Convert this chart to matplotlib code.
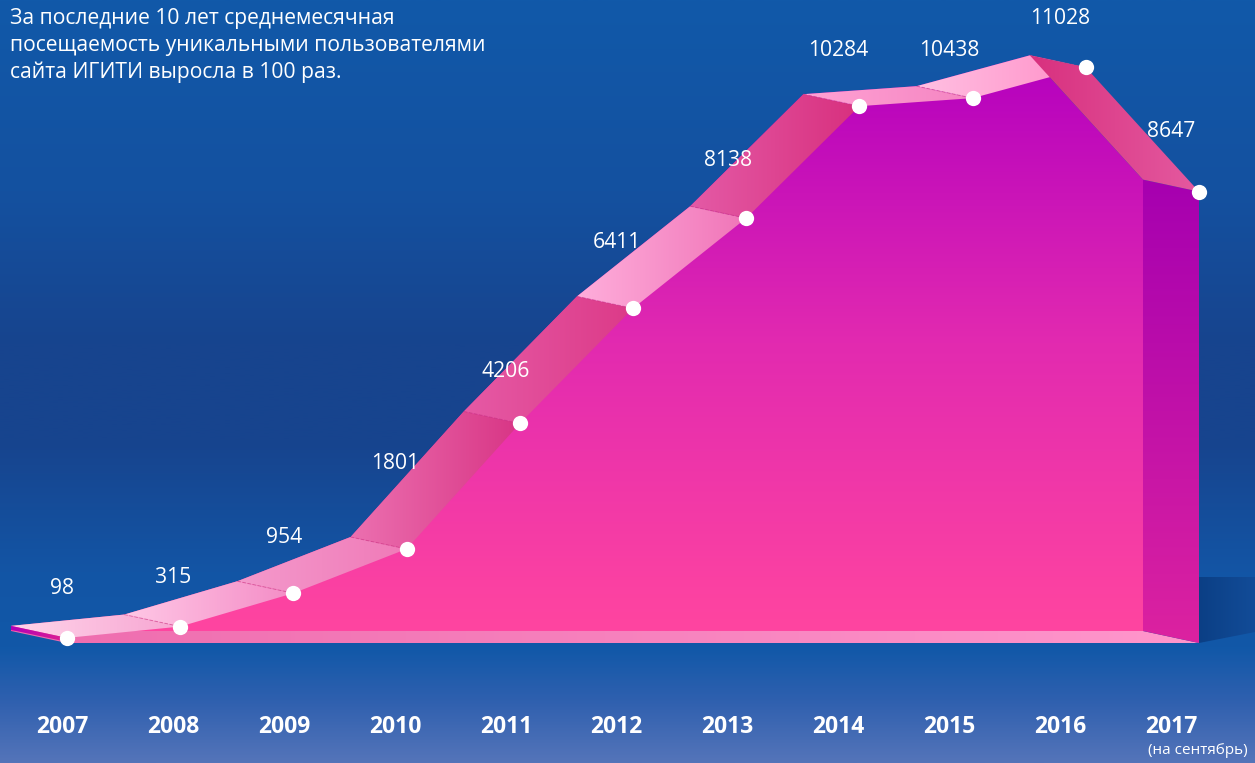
import matplotlib
matplotlib.use('Agg')
import matplotlib.pyplot as plt
import numpy as np
from matplotlib.colors import LinearSegmentedColormap
from matplotlib.patches import Polygon

# Datos
years = ['2007', '2008', '2009', '2010', '2011', '2012', '2013', '2014', '2015', '2016', '2017']
values = [98, 315, 954, 1801, 4206, 6411, 8138, 10284, 10438, 11028, 8647]
title = ('За последние 10 лет среднемесячная\n'
         'посещаемость уникальными пользователями\n'
         'сайта ИГИТИ выросла в 100 раз.')
note = '(на сентябрь)'

plt.rcParams['font.family'] = ['Open Sans', 'DejaVu Sans']

W, H = 1255, 763
fig = plt.figure(figsize=(W / 100, H / 100), dpi=100)
ax = fig.add_axes([0, 0, 1, 1])
ax.axis('off')

# escala: pixeles por unidad
px_x = 113.2
px_y = 0.0522
x0_px = 67
y0_px = 643
xlim = (-x0_px / px_x, (W - x0_px) / px_x)
ylim = ((y0_px - H) / px_y, y0_px / px_y)
ax.set_xlim(xlim)
ax.set_ylim(ylim)

x = np.arange(len(values), dtype=float)
v = np.array(values, dtype=float)

# desplazamiento del borde trasero (3D)
dx = -56 / px_x
dy = 12 / px_y
bx = x + dx
bv = v + dy


def gradient(ax, poly_xy, colors, vertical=False, z=1):
    poly = Polygon(poly_xy, closed=True, facecolor='none', edgecolor='none')
    ax.add_patch(poly)
    xs = [p[0] for p in poly_xy]
    ys = [p[1] for p in poly_xy]
    cmap = LinearSegmentedColormap.from_list('g', colors)
    if vertical:
        img = np.linspace(0, 1, 256).reshape(-1, 1)
    else:
        img = np.linspace(0, 1, 256).reshape(1, -1)
    im = ax.imshow(img, cmap=cmap, aspect='auto', origin='lower',
                   extent=(min(xs), max(xs), min(ys), max(ys)), zorder=z,
                   interpolation='bilinear')
    im.set_clip_path(poly)
    return im


# fondo
bg = LinearSegmentedColormap.from_list('bg', [
    (0.0, '#5474b9'), (0.08, '#2f60af'), (0.15, '#1158a8'),
    (0.25, '#1355a5'), (0.42, '#17448e'), (0.55, '#17448e'),
    (0.75, '#1451a0'), (1.0, '#1159a9')])
ax.imshow(np.linspace(0, 1, 256).reshape(-1, 1), cmap=bg, aspect='auto',
          origin='lower', extent=(0, 1, 0, 1), transform=ax.transAxes, zorder=0)

# sombra a la derecha
shadow = [(x[-1], 0), (x[-1], 1270), (xlim[1], 1270), (xlim[1], 210)]
gradient(ax, shadow, ['#0b3f85', '#124c98'], z=1)

# cara trasera (área)
area = list(zip(bx, bv)) + [(bx[-1], dy), (bx[0], dy)]
gradient(ax, area, ['#ff45a0', '#e22ab0', '#b400bf'], vertical=True, z=1)

# cara inferior
bottom = [(x[0], 0), (x[-1], 0), (bx[-1], dy), (bx[0], dy)]
gradient(ax, bottom, ['#ee6cae', '#ff96cc'], z=2)

# cara lateral derecha
side = [(bx[-1], bv[-1]), (x[-1], v[-1]), (x[-1], 0), (bx[-1], dy)]
gradient(ax, side, ['#dc22a0', '#a600b0'], vertical=True, z=2)

# cinta superior
seg_colors = [('#ffd5ea', '#f7a5d2'), ('#ffc8e6', '#f48cc6'), ('#f49acc', '#f07ab8'),
              ('#ec70b0', '#d83585'), ('#e65aa5', '#dc3a88'), ('#ffaedb', '#f075b8'),
              ('#e45aa6', '#d8307e'), ('#ffa2d4', '#f585c2'), ('#ffc0e2', '#ff90c8'),
              ('#d8307e', '#e45aa0')]
for i in range(len(values) - 1):
    quad = [(bx[i], bv[i]), (bx[i + 1], bv[i + 1]), (x[i + 1], v[i + 1]), (x[i], v[i])]
    gradient(ax, quad, list(seg_colors[i]), z=3)
    if i > 0:
        ax.plot([bx[i], x[i]], [bv[i], v[i]], color='#c0307a', lw=0.7, alpha=0.5,
                ls='--', zorder=4)

# extremo izquierdo de la cinta
cap_h = 4 / px_y
cap = [(bx[0], bv[0]), (x[0], v[0]), (x[0], v[0] - cap_h), (bx[0], bv[0] - cap_h)]
gradient(ax, cap, ['#b000b8', '#e02090'], z=3)

# puntos
ax.plot(x, v, 'o', color='white', ms=11, mec='none', zorder=5)

# etiquetas
label_x = (62.5 + 110.85 * x - x0_px) / px_x
lift_px = [49, 49, 56, 85, 52, 66, 58, 56, 48, 49, 60]
for i, val in enumerate(values):
    ax.text(label_x[i], val + lift_px[i] / px_y, str(val), color='white',
            fontsize=15.2, ha='center', va='center', zorder=6)
    ax.text(label_x[i], (y0_px - 727) / px_y, years[i], color='white',
            fontsize=16.5, fontweight='bold', ha='center', va='center', zorder=6)

ax.text(1198 / W, 1 - 751 / H, note, color='white', fontsize=11,
        ha='center', va='center', transform=ax.transAxes, zorder=6)

fig.text(10 / W, 1 - 8 / H, title, color='white', fontsize=15.2,
         ha='left', va='top', linespacing=1.35)

plt.savefig('out.png', dpi=100)
